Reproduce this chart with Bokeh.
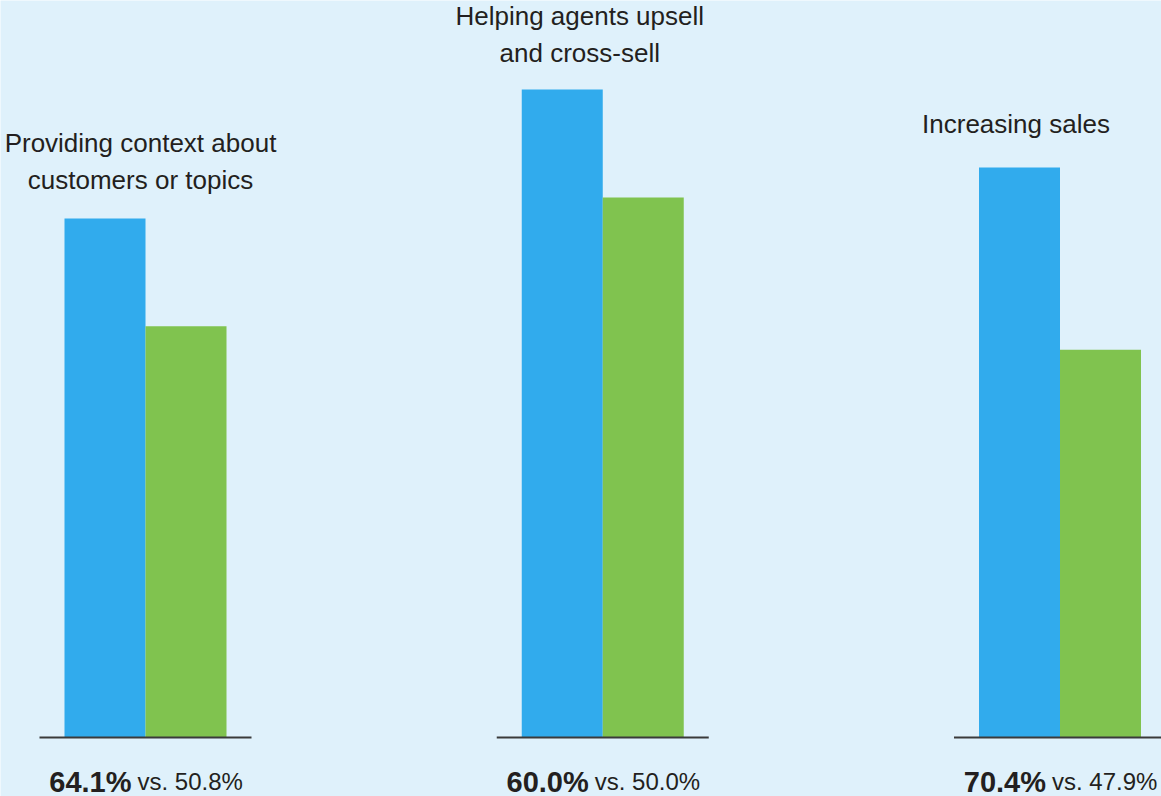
from bokeh.plotting import figure
from bokeh.models import ColumnDataSource, Range1d
from bokeh.embed import file_html
from bokeh.resources import INLINE
from bokeh.core.properties import value

# ---------------- data ----------------
categories = [
    ["Providing context about", "customers or topics"],
    ["Helping agents upsell", "and cross-sell"],
    ["Increasing sales"],
]
series_top = [64.1, 60.0, 70.4]     # blue bars
series_other = [50.8, 50.0, 47.9]   # green bars

# ---------------- style / layout ----------------
W, H = 1161, 796
BG = "#DFF1FB"
BLUE = "#31ABED"
GREEN = "#80C34F"
INK = "#231F20"
RULE = "#3A3A3A"
FONT = "Liberation Sans"

unit_px = 457.25          # px between group centres
x0_px = 145               # px of first group centre
bar_px = 81
base_half_px = 106
base_from_bottom = 59
scale_px = [8.097, 10.8, 8.097]   # px per percentage point in each panel
title_dx = [-5, -23, -44]
title_gap = [38, 37, 43]
line_step = 37
label_dy = 44

bar_w = bar_px / unit_px
base_half = base_half_px / unit_px

p = figure(width=W, height=H, output_backend="svg", toolbar_location=None,
           x_range=Range1d(-x0_px / unit_px, (W - x0_px) / unit_px),
           y_range=Range1d(-base_from_bottom / scale_px[0], (H - base_from_bottom) / scale_px[0]),
           x_axis_location=None, y_axis_location=None,
           min_border=0, background_fill_color=BG, border_fill_color=BG,
           outline_line_color=None)
p.grid.visible = False

for i, cat in enumerate(categories):
    rn = f"g{i}"
    s = scale_px[i]
    p.extra_y_ranges[rn] = Range1d(-base_from_bottom / s, (H - base_from_bottom) / s)

    bars = ColumnDataSource(dict(
        x=[i - bar_w / 2, i + bar_w / 2],
        top=[series_top[i], series_other[i]],
        color=[BLUE, GREEN],
    ))
    p.vbar(x="x", top="top", bottom=0, width=bar_w, color="color",
           line_color=None, source=bars, y_range_name=rn)

    p.segment(x0=[i - base_half], x1=[i + base_half], y0=[0], y1=[0],
              line_color=RULE, line_width=2, y_range_name=rn)

    n = len(cat)
    titles = ColumnDataSource(dict(
        x=[i] * n,
        y=[series_top[i]] * n,
        text=cat,
        yo=[-(title_gap[i] + (n - 1 - k) * line_step) for k in range(n)],
    ))
    p.text(x="x", y="y", text="text", source=titles, y_range_name=rn,
           x_offset=title_dx[i], y_offset="yo",
           text_align="center", text_baseline="alphabetic",
           text_font=value(FONT), text_font_size="26px", text_color=INK)

    p.text(x=[i], y=[0], text=[f"{series_top[i]:.1f}%"], y_range_name=rn,
           x_offset=-14, y_offset=label_dy, text_align="right",
           text_baseline="alphabetic", text_font=value(FONT),
           text_font_style="bold", text_font_size="29px", text_color=INK)
    p.text(x=[i], y=[0], text=[f"vs. {series_other[i]:.1f}%"], y_range_name=rn,
           x_offset=-8, y_offset=label_dy, text_align="left",
           text_baseline="alphabetic", text_font=value(FONT),
           text_font_size="24px", text_color=INK)

open("out.html", "w").write(file_html(p, INLINE))
